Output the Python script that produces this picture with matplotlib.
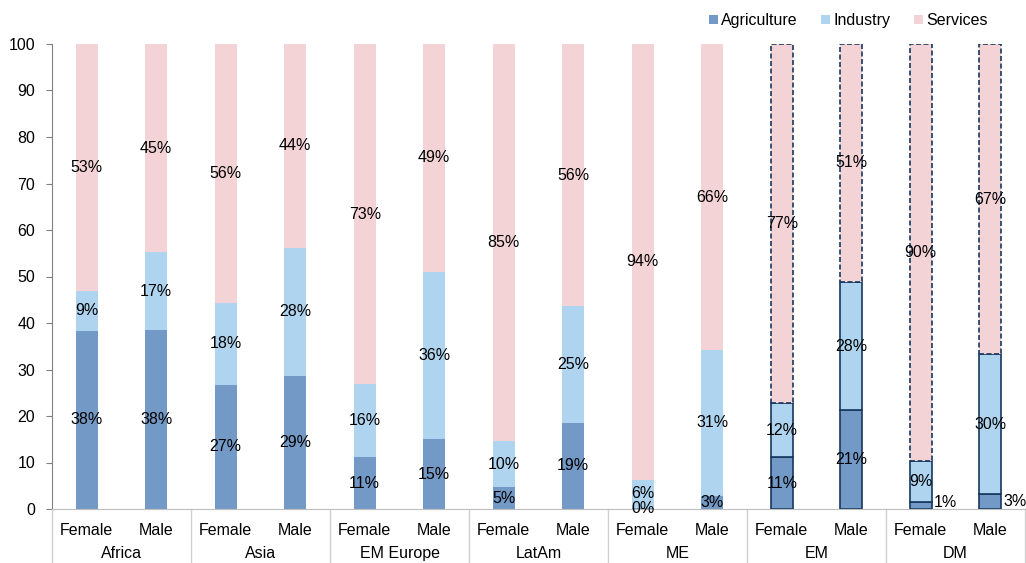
import matplotlib
matplotlib.use("Agg")
import matplotlib.pyplot as plt
import matplotlib.transforms as mtransforms
from matplotlib.patches import Patch
import numpy as np

plt.rcParams['font.family'] = ['Liberation Sans', 'DejaVu Sans']

# Data (share of employment, % of each sex)
regions = ["Africa", "Asia", "EM Europe", "LatAm", "ME", "EM", "DM"]
sexes = ["Female", "Male"]
agriculture = [38.3, 38.4, 26.7, 28.6, 11.1, 15.0, 4.7, 18.6, 0.3, 2.9, 11.1, 21.2, 1.4, 3.2]
industry = [8.6, 16.8, 17.6, 27.6, 15.7, 36.0, 9.9, 25.0, 6.0, 31.2, 11.7, 27.7, 9.0, 30.1]
services = [53.1, 44.8, 55.7, 43.8, 73.2, 49.0, 85.4, 56.4, 93.7, 65.9, 77.2, 51.1, 89.6, 66.7]
outlined_regions = ["EM", "DM"]

C_AGR = '#7399C6'
C_IND = '#AED4EF'
C_SER = '#F4D3D6'
C_EDGE = '#17375E'

fig = plt.figure(figsize=(10.26, 5.63), dpi=100)
ax = fig.add_axes([52 / 1026, 1 - 509 / 563, 973 / 1026, 465 / 563])

n = len(agriculture)
x = np.arange(n)
width = 0.32
agr = np.array(agriculture)
ind = np.array(industry)
ser = np.array(services)

for i in range(n):
    reg = regions[i // 2]
    if reg in outlined_regions:
        kw = dict(edgecolor=C_EDGE, linewidth=1.2)
        ax.bar(x[i], agr[i], width, color=C_AGR, **kw)
        ax.bar(x[i], ind[i], width, bottom=agr[i], color=C_IND, **kw)
        ax.bar(x[i], ser[i], width, bottom=agr[i] + ind[i], color=C_SER,
               linestyle=(0, (3, 1.5)), **kw)
    else:
        ax.bar(x[i], agr[i], width, color=C_AGR)
        ax.bar(x[i], ind[i], width, bottom=agr[i], color=C_IND)
        ax.bar(x[i], ser[i], width, bottom=agr[i] + ind[i], color=C_SER)

# Value labels
fs = 11.5
for i in range(n):
    reg = regions[i // 2]
    if reg == "DM":
        ax.text(x[i] + width / 2 + 0.03, max(agr[i] / 2, 1.5), f"{agr[i]:.0f}%",
                ha='left', va='center', fontsize=fs)
    else:
        ax.text(x[i], agr[i] / 2, f"{agr[i]:.0f}%", ha='center', va='center', fontsize=fs)
    ax.text(x[i], agr[i] + ind[i] / 2, f"{ind[i]:.0f}%", ha='center', va='center', fontsize=fs)
    ax.text(x[i], agr[i] + ind[i] + ser[i] / 2, f"{ser[i]:.0f}%", ha='center', va='center', fontsize=fs)

ax.set_xlim(-0.5, n - 0.5)
ax.set_ylim(0, 100)
ax.set_yticks(np.arange(0, 101, 10))
ax.tick_params(axis='y', direction='out', length=4, color='#808080', labelsize=fs, pad=8)
ax.set_xticks(x)
ax.set_xticklabels(sexes * len(regions))
ax.tick_params(axis='x', length=0, labelsize=fs, pad=10)

for s in ['top', 'right']:
    ax.spines[s].set_visible(False)
ax.spines['left'].set_color('#808080')
ax.spines['bottom'].set_color('#BFBFBF')

# Group separators and group labels
trans = mtransforms.blended_transform_factory(ax.transData, ax.transAxes)
trans_fig = mtransforms.blended_transform_factory(ax.transData, fig.transFigure)
for g in range(len(regions) + 1):
    ax.plot([g * 2 - 0.5, g * 2 - 0.5], [0, -0.2], transform=trans, color='#D0D0D0',
            linewidth=1, clip_on=False)
for g, reg in enumerate(regions):
    ax.text(g * 2 + 0.5, 2 / 563, reg, transform=trans_fig, ha='center', va='bottom', fontsize=fs)

legend_elements = [
    Patch(facecolor=C_AGR, label='Agriculture'),
    Patch(facecolor=C_IND, label='Industry'),
    Patch(facecolor=C_SER, label='Services'),
]
fig.legend(handles=legend_elements, loc='upper right', bbox_to_anchor=(0.977, 1.002), ncol=3,
           frameon=False, fontsize=fs, handlelength=0.56, handleheight=0.56,
           handletextpad=0.2, columnspacing=1.5)

fig.savefig("out.png", dpi=100)
